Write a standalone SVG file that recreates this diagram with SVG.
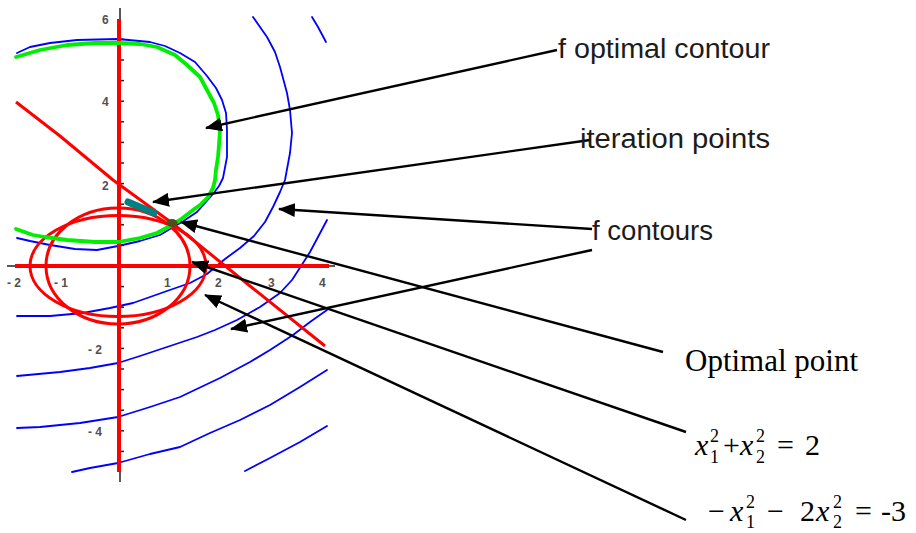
<svg xmlns="http://www.w3.org/2000/svg" width="916" height="533" viewBox="0 0 916 533">
<style>
.blue{fill:none;stroke:#0000ff;stroke-width:1.8;stroke-linejoin:round;stroke-linecap:round}
.red{fill:none;stroke:#ff0000;stroke-width:3;stroke-linejoin:round}
.green{fill:none;stroke:#00ee00;stroke-width:3.8;stroke-linejoin:round;stroke-linecap:round}
.tick{stroke:#222;stroke-width:1.5}
.tl{font-family:"Liberation Sans",Arial,sans-serif;font-size:12px;font-weight:bold;fill:#505050}
.lab{font-family:"Liberation Sans",Arial,sans-serif;font-size:27px;fill:#1c1c1c}
.ser{font-family:"Liberation Serif","Times New Roman",serif;font-size:31px;fill:#000}
.math{font-family:"Liberation Serif","Times New Roman",serif;font-size:30px;fill:#000}
.it{font-style:italic}
.sm{font-size:18px}
.arr{fill:none;stroke:#000;stroke-width:2.4;marker-end:url(#ah)}
</style>
<defs>
<marker id="ah" markerUnits="userSpaceOnUse" markerWidth="18" markerHeight="14" refX="16" refY="7" orient="auto">
<path d="M0,0 L17,7 L0,14 z" fill="#000"/>
</marker>
</defs>
<rect width="916" height="533" fill="#fff"/>
<g id="plot">
<g id="f-contours">
<polyline class="blue" points="17,53 30,47 50,43 77,40 118,39 150,42 165,46 180,53 195,62 207,76 216,88 222,100 226,113 227,130 227,157 223,178 219,186 213,194 205,203 197,212 182,222 170,229 160,235 140,241 118,246 97,250 75,249 50,245 30,241 17,238"/>
<polyline class="blue" points="253,17 260,27 267,37 275,52 280,67 287,93 290,110 292,133 290,153 285,180 280,192 273,207 265,222 254,236 240,248 225,259 207,274 190,283 167,291 150,297 133,303 110,308 83,313 50,316 17,316"/>
<polyline class="blue" points="312,17 318,27 326,42"/>
<polyline class="blue" points="327,220 318,237 310,252 303,263 292,280 280,293 260,307 237,320 215,330 197,337 167,347 140,356 118,363 90,368 60,372 17,376"/>
<polyline class="blue" points="327,310 310,322 293,335 270,350 250,362 220,378 180,397 150,407 118,417 80,423 40,427 17,428"/>
<polyline class="blue" points="327,370 300,387 270,405 240,420 210,433 180,447 150,454 118,463 90,468 72,472"/>
<polyline class="blue" points="327,426 300,442 270,458 245,471"/>
</g>
<g id="axes">
<line x1="7" y1="266" x2="16" y2="266" class="tick"/>
<line x1="328" y1="266" x2="335" y2="266" class="tick" stroke="#666"/>
<line x1="15" y1="266" x2="329" y2="266" stroke="#ff0000" stroke-width="4"/>
<line x1="120" y1="8" x2="120" y2="20" class="tick"/>
<line x1="120" y1="471" x2="120" y2="482" class="tick"/>
<line x1="119" y1="19" x2="119" y2="472" stroke="#ff0000" stroke-width="4"/>
<g id="vticks" class="tick">
<line x1="121" y1="39.4" x2="124" y2="39.4"/><line x1="121" y1="60" x2="124" y2="60"/><line x1="121" y1="80.6" x2="124" y2="80.6"/><line x1="121" y1="101.2" x2="124" y2="101.2"/><line x1="121" y1="121.8" x2="124" y2="121.8"/><line x1="121" y1="142.4" x2="124" y2="142.4"/><line x1="121" y1="163" x2="124" y2="163"/><line x1="121" y1="183.6" x2="124" y2="183.6"/><line x1="121" y1="204.2" x2="124" y2="204.2"/><line x1="121" y1="224.8" x2="124" y2="224.8"/><line x1="121" y1="245.4" x2="124" y2="245.4"/><line x1="121" y1="286.6" x2="124" y2="286.6"/><line x1="121" y1="307.2" x2="124" y2="307.2"/><line x1="121" y1="327.8" x2="124" y2="327.8"/><line x1="121" y1="348.4" x2="124" y2="348.4"/><line x1="121" y1="369" x2="124" y2="369"/><line x1="121" y1="389.6" x2="124" y2="389.6"/><line x1="121" y1="410.2" x2="124" y2="410.2"/><line x1="121" y1="430.8" x2="124" y2="430.8"/><line x1="121" y1="451.4" x2="124" y2="451.4"/>
</g>
<text class="tl" x="102" y="24">6</text>
<text class="tl" x="102" y="106">4</text>
<text class="tl" x="102" y="190">2</text>
<text class="tl" x="88" y="354">- 2</text>
<text class="tl" x="88" y="436">- 4</text>
<text class="tl" x="7" y="287">- 2</text>
<text class="tl" x="54" y="287">- 1</text>
<text class="tl" x="164" y="287">1</text>
<text class="tl" x="215" y="287">2</text>
<text class="tl" x="268" y="287">3</text>
<text class="tl" x="319" y="287">4</text>
</g>
<g id="constraints">
<ellipse class="red" cx="118" cy="266" rx="72" ry="58"/>
<ellipse class="red" cx="118" cy="266" rx="88" ry="50.5"/>
<polyline class="red" points="16,102 60,136 113,180 172,223 250,286 325,346" stroke-width="3.4"/>
</g>
<polyline id="f-optimal" class="green" points="16,57 40,50 67,45 95,43 118,43 140,44 157,47 175,55 187,65 200,77 207,90 214,103 218,115 220,130 219,145 218,157 216,170 215,180 213,188 208,197 200,205 193,210 180,220 170,226 157,233 140,238 118,242 95,242 67,240 45,237 33,235 16,229"/>
<line id="iteration-points" x1="128" y1="202" x2="154" y2="213" stroke="#008080" stroke-width="7" stroke-linecap="round"/>
<ellipse id="optimal-point" cx="172" cy="223" rx="5.5" ry="4" fill="#4d4d1e"/>
</g>
<g id="connectors">
<line class="arr" x1="557" y1="50" x2="206" y2="128"/>
<line class="arr" x1="590" y1="140" x2="153" y2="202"/>
<line class="arr" x1="592" y1="229" x2="279" y2="209"/>
<line class="arr" x1="592" y1="250" x2="231" y2="329"/>
<line class="arr" x1="663" y1="352" x2="181" y2="222"/>
<line class="arr" x1="686" y1="432" x2="192" y2="262"/>
<line class="arr" x1="686" y1="520" x2="205" y2="295"/>
</g>
<g id="label-f-optimal"><text class="lab" x="558" y="58" textLength="212" lengthAdjust="spacingAndGlyphs">f optimal contour</text></g>
<g id="label-iteration"><text class="lab" x="580" y="148" textLength="190" lengthAdjust="spacingAndGlyphs">iteration points</text></g>
<g id="label-f-contours"><text class="lab" x="592" y="240" textLength="121" lengthAdjust="spacingAndGlyphs">f contours</text></g>
<g id="label-optimal-point"><text class="ser" x="685" y="371">Optimal point</text></g>
<g id="label-circle">
<text class="math"><tspan class="it" x="695" y="455">x</tspan><tspan class="sm" x="710" y="463">1</tspan><tspan class="sm" x="710" y="442">2</tspan><tspan x="723" y="455">+</tspan><tspan class="it" x="740" y="455">x</tspan><tspan class="sm" x="756" y="463">2</tspan><tspan class="sm" x="756" y="442">2</tspan><tspan x="777" y="455">=</tspan><tspan x="805" y="455">2</tspan></text>
</g>
<g id="label-ellipse">
<text class="math"><tspan x="708" y="521">−</tspan><tspan class="it" x="730" y="521">x</tspan><tspan class="sm" x="746" y="528">1</tspan><tspan class="sm" x="746" y="508">2</tspan><tspan x="767" y="521">−</tspan><tspan x="800" y="521">2</tspan><tspan class="it" x="816" y="521">x</tspan><tspan class="sm" x="833" y="528">2</tspan><tspan class="sm" x="833" y="508">2</tspan><tspan x="855" y="521">=</tspan><tspan x="881" y="521">-3</tspan></text>
</g>
</svg>
